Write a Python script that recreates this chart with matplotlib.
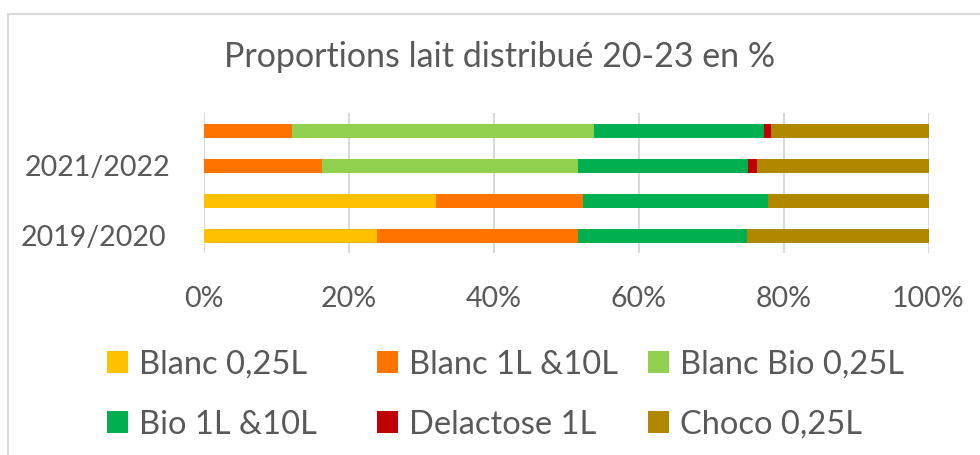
import numpy as np
import matplotlib
matplotlib.use("Agg")
import matplotlib.pyplot as plt
from matplotlib.patches import Rectangle
from matplotlib.transforms import ScaledTranslation

plt.rcParams['font.family'] = ['Lato', 'DejaVu Sans']

# seasons, bottom to top
seasons = ['2019/2020', '2020/2021', '2021/2022', '2022/2023']
shown_labels = ['2019/2020', '', '2021/2022', '']

series = ['Blanc 0,25L', 'Blanc 1L &10L', 'Blanc Bio 0,25L',
          'Bio 1L &10L', 'Delactose 1L', 'Choco 0,25L']
colors = ['#FFC000', '#FF7300', '#92D050', '#00B050', '#C00000', '#B08800']

# share in % per season
blanc_025 = [23.9, 32.1, 0.0, 0.0]
blanc_1l = [27.7, 20.3, 16.4, 12.2]
bio_025 = [0.0, 0.0, 35.3, 41.7]
bio_1l = [23.4, 25.4, 23.4, 23.4]
delactose = [0.0, 0.0, 1.3, 1.0]
choco = [25.0, 22.2, 23.6, 21.7]

values = [blanc_025, blanc_1l, bio_025, bio_1l, delactose, choco]

grey = '#595959'
fig = plt.figure(figsize=(9.8, 4.55), dpi=100)
ax = fig.add_axes([203.5 / 980, 1 - 253 / 455, 725 / 980, 140 / 455])

y = np.arange(len(seasons))
left = np.zeros(len(seasons))
handles = []
for name, vals, c in zip(series, values, colors):
    vals = np.array(vals)
    b = ax.barh(y, vals, left=left, height=0.4, color=c, label=name, zorder=3)
    handles.append(b)
    left += vals

ax.set_xlim(0, 100)
ax.set_ylim(-0.5, 3.5)
ax.set_xticks([0, 20, 40, 60, 80, 100])
ax.set_xticklabels(['0%', '20%', '40%', '60%', '80%', '100%'])
ax.set_yticks(y)
ax.set_yticklabels(shown_labels)
ax.grid(axis='x', color='#d9d9d9', linewidth=1.5, zorder=0)
for s in ['top', 'right', 'bottom', 'left']:
    ax.spines[s].set_visible(False)
ax.tick_params(length=0, labelsize=20.5, labelcolor=grey)
ax.tick_params(axis='x', pad=24)
ax.tick_params(axis='y', pad=27)

# the upper label sits a bit more to the right in the original
lab = ax.get_yticklabels()[2]
lab.set_transform(lab.get_transform() + ScaledTranslation(0.04, 0, fig.dpi_scale_trans))

fig.text(0.51, 1 - 57 / 455, 'Proportions lait distribué 20-23 en %',
         ha='center', va='center', fontsize=24.5, color=grey)

# legend: three columns of two rows, placed one by one
col_x = [107, 377, 648]
for k, x in enumerate(col_x):
    idx = [k, k + 3]
    fig.legend([handles[i] for i in idx], [series[i] for i in idx],
               loc='upper left', bbox_to_anchor=(x / 980, 1 - 349.5 / 455),
               frameon=False, fontsize=23.5, labelcolor=grey,
               borderpad=0, borderaxespad=0,
               handlelength=0.645, handleheight=0.645, handletextpad=0.34,
               labelspacing=0.92)

fig.patches.append(Rectangle((7.5 / 980, -0.1), 1.0, 1 - 14 / 455 + 0.1,
                             transform=fig.transFigure, fill=False,
                             edgecolor='#d9d9d9', linewidth=1.5))

fig.savefig('out.png', dpi=100)
